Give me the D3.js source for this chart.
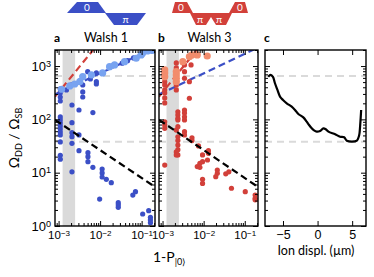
<!DOCTYPE html>
<html><head><meta charset="utf-8">
<script src="https://cdn.jsdelivr.net/npm/d3@7"></script>
<style>body{margin:0;background:#fff} svg{display:block;font-family:Lato,"Open Sans",sans-serif}</style>
</head><body><svg id="c" width="374" height="277"></svg>
<script>
// ---------- data ----------
const xDomain = [8.2e-4, 0.21];
const yDomain = [1, 2000];
const cDomain = [-7.6, 7.0];
const bandRange = [1.25e-3, 2.5e-3];
const refLevels = [650, 38];
const yTickVals = [1, 10, 100, 1000];
const xTickVals = [1e-3, 1e-2, 1e-1];
const cTickVals = [-5, 0, 5];
const panelTitles = ["Walsh 1", "Walsh 3", ""];
const panelLetters = ["a", "b", "c"];

const walsh1Dark = [
 [1.1e-3,372],[1.1e-3,313],[1.1e-3,263],[1.1e-3,221],[1.1e-3,111],[1.1e-3,97.5],[1.1e-3,85.5],[1.1e-3,75],[1.1e-3,66],[1.1e-3,58],[1.1e-3,51],[1.1e-3,37.7],[1.1e-3,21.2],[1.1e-3,17.9],
 [2.1e-3,186],[2.1e-3,86.7],[2.1e-3,56.3],[2.1e-3,47.4],[2.1e-3,35.6],[2.1e-3,10.4],
 [3.1e-3,150],[3.1e-3,51],[3.1e-3,25.9],
 [5.1e-3,23.7],[5.1e-3,20],[5.1e-3,16.1],
 [6.7e-3,134],[6.7e-3,12.6],
 [0.0112,11.7],[0.0112,9.9],[0.0112,8.3],
 [0.0141,7.5],[0.0186,6.5],[9.75e-3,3.2],
 [0.0274,2.74],[0.0274,2.48],[0.0274,2.24],
 [0.0614,3.8],[0.0711,4.4],[0.106,1.68],[0.148,1.94],[0.163,1.46],[0.163,1.30],[0.163,1.15],
 [1.55e-3,356],[2.04e-3,442],[3.24e-3,525],[3.82e-3,442],[3.82e-3,327],[3.82e-3,263],[5.02e-3,785],[5.83e-3,573],[8.13e-3,742],[8.13e-3,510],[8.13e-3,461],
 [0.02,1004],[0.034,1130],[0.0458,1262],[0.0637,1419]
];
const walsh1Light = [
 [1.18e-3,367],[1.86e-3,423],[2.45e-3,461],[3.24e-3,510],[3.82e-3,632],[6.17e-3,681],[0.0115,742],[0.0169,975],[0.0223,1050],[0.0388,1210],[0.074,1400],[0.0975,1616],[0.105,1740],[0.138,1920],[0.182,1960]
];
const walsh3Red = [
 [1.13e-3,510],[1.13e-3,442],[1.13e-3,356],[1.13e-3,313],[1.13e-3,252],[1.13e-3,203],[1.13e-3,90],[1.13e-3,78],[1.13e-3,68],[1.13e-3,13.9],
 [2.16e-3,1143],[2.16e-3,921],[2.16e-3,785],[2.16e-3,442],[2.16e-3,356],[2.16e-3,63],[2.16e-3,24.5],[2.16e-3,21.5],
 [2.36e-3,139],[2.36e-3,121],[2.36e-3,105],[2.36e-3,97.5],[2.36e-3,73],[2.36e-3,47],[2.36e-3,40],[2.36e-3,33],[2.36e-3,27],[2.36e-3,21.5],
 [3.42e-3,1050],[3.42e-3,785],[3.42e-3,590],[3.42e-3,150],[3.42e-3,132],[3.42e-3,112],[3.42e-3,97.5],[3.42e-3,58.8],[3.42e-3,51],
 [4.5e-3,510],[4.5e-3,249],[4.94e-3,1050],[5.2e-3,45],[5.2e-3,40],
 [7.5e-3,31.7],[7e-3,13],[8.1e-3,15],[8.1e-3,12.6],[9.4e-3,21.5],[9.4e-3,16.1],[9.4e-3,7.5],[9.4e-3,6.3],[0.0124,17.3],[0.0131,25.9],[0.0131,23.1],
 [0.0215,11.2],[0.0215,9.75],[0.0197,8.4],[0.0345,9.5],[0.041,10.4],[0.0475,5.1],[0.103,4.4],[0.179,3.8],[0.179,3.3],[0.179,3.1]
];
const walsh3Salmon = [
 [1.13e-3,845],[1.13e-3,742],[1.13e-3,632],[2.16e-3,785],[2.16e-3,681],[2.16e-3,590],[2.16e-3,510],[3.11e-3,1210],[4.5e-3,1500],[5.2e-3,1616],[7e-3,1616],[0.0122,1545]
];
const redDash = [[8.2e-4,267],[6.8e-3,2000]];
const blueDash = [[8.2e-4,293],[0.21,2220]];
const blackDash = [[8.2e-4,98],[0.21,5.4]];
const ionDispl = [-7.13,-6.78,-6.45,-6.16,-5.80,-5.43,-5.0,-4.46,-3.74,-3.26,-2.78,-2.06,-1.57,-1.23,-0.84,-0.51,-0.12,0.36,0.84,1.23,1.57,2.54,3.26,3.84,4.23,4.96,5.68,5.94,6.06,6.19,6.30];
const ionRatio = [632,681,625,476,356,267,231,200,173,150,126,109,90.6,78.5,68,62,58.8,60.6,68,64.6,58.8,52.5,47.3,46.2,39.8,38.2,39.8,46.7,54.8,89,150];

// ---------- colours ----------
const C = {dark:"#3b4fc6", light:"#78a3f0", red:"#d2403a", salmon:"#f28c6c", grey:"#dadada"};

// ---------- layout ----------
const svg = d3.select("#c");
const yTop = 50, yBot = 226;
const panels = [{l:55,r:155},{l:159,r:258},{l:265,r:366}];
const y = d3.scaleLog().domain(yDomain).range([yBot, yTop]);
const minorY = [];
for (let d=1; d<=1000; d*=10) for (let k=2;k<=9;k++) if (d*k<=yDomain[1]) minorY.push(d*k);
const minorX = [];
for (let d=1e-4; d<=0.1; d*=10) for (let k=2;k<=9;k++){const v=d*k; if(v>=xDomain[0]&&v<=xDomain[1]) minorX.push(v);}

function supLabel(sel, exp){
  sel.text(null);
  sel.append("tspan").text("10");
  sel.append("tspan").attr("dy","-0.45em").attr("font-size","0.7em").text(exp);
}

const defs = svg.append("defs");
panels.forEach((p,i)=>{
  defs.append("clipPath").attr("id","clip"+i).append("rect").attr("x",p.l).attr("y",yTop).attr("width",p.r-p.l).attr("height",yBot-yTop);
});

function yAxes(g, p, labels){
  const axL = g.append("g").attr("transform",`translate(${p.l},0)`).call(d3.axisLeft(y).tickValues(yTickVals).tickSizeInner(-5).tickSizeOuter(0).tickPadding(4).tickFormat(d=>labels?String(Math.round(Math.log10(d))):""));
  g.append("g").attr("transform",`translate(${p.l},0)`).call(d3.axisLeft(y).tickValues(minorY).tickSizeInner(-3).tickSizeOuter(0).tickFormat(""));
  g.append("g").attr("transform",`translate(${p.r},0)`).call(d3.axisRight(y).tickValues(yTickVals).tickSizeInner(-5).tickSizeOuter(0).tickFormat(""));
  g.append("g").attr("transform",`translate(${p.r},0)`).call(d3.axisRight(y).tickValues(minorY).tickSizeInner(-3).tickSizeOuter(0).tickFormat(""));
  if (labels){
    axL.selectAll("text").attr("font-size",13).attr("fill","#000").each(function(d){supLabel(d3.select(this), String(Math.round(Math.log10(d))));});
  }
}

panels.forEach((p,i)=>{
  const g = svg.append("g");
  const isC = i===2;
  const x = isC ? d3.scaleLinear().domain(cDomain).range([p.l,p.r]) : d3.scaleLog().domain(xDomain).range([p.l,p.r]);
  const plot = g.append("g").attr("clip-path",`url(#clip${i})`);
  if (!isC){
    plot.append("rect").attr("x",x(bandRange[0])).attr("y",yTop).attr("width",x(bandRange[1])-x(bandRange[0])).attr("height",yBot-yTop).attr("fill",C.grey);
  }
  refLevels.forEach(v=>{
    plot.append("line").attr("x1",p.l).attr("x2",p.r).attr("y1",y(v)).attr("y2",y(v)).attr("stroke",C.grey).attr("stroke-width",2).attr("stroke-dasharray","7,5");
  });
  const line = d3.line().x(d=>x(d[0])).y(d=>y(d[1]));
  if (!isC){
    const dark = i===0 ? walsh1Dark : walsh3Red;
    const light = i===0 ? walsh1Light : walsh3Salmon;
    const cd = i===0 ? C.dark : C.red, cl = i===0 ? C.light : C.salmon;
    plot.append("path").datum(redDash).attr("d",line).attr("fill","none").attr("stroke",C.red).attr("stroke-width",2.2).attr("stroke-dasharray","7,4");
    plot.append("path").datum(blueDash).attr("d",line).attr("fill","none").attr("stroke",C.dark).attr("stroke-width",2.2).attr("stroke-dasharray","7,4");
    plot.selectAll("circle.d").data(dark).join("circle").attr("cx",d=>x(d[0])).attr("cy",d=>y(d[1])).attr("r",2.6).attr("fill",cd);
    plot.selectAll("circle.l").data(light).join("circle").attr("cx",d=>x(d[0])).attr("cy",d=>y(d[1])).attr("r",3.6).attr("fill",cl);
    plot.append("path").datum(blackDash).attr("d",line).attr("fill","none").attr("stroke","#000").attr("stroke-width",2.2).attr("stroke-dasharray","7,4");
  } else {
    const pts = ionDispl.map((v,k)=>[v, ionRatio[k]]);
    plot.append("path").datum(pts).attr("d",line.curve(d3.curveCatmullRom)).attr("fill","none").attr("stroke","#000").attr("stroke-width",2.2);
  }
  // axes
  const ax = g.append("g").attr("font-family","Lato");
  if (!isC){
    const b = ax.append("g").attr("transform",`translate(0,${yBot})`).call(d3.axisBottom(x).tickValues(xTickVals).tickSizeInner(-5).tickSizeOuter(0).tickPadding(5).tickFormat(d=>String(Math.round(Math.log10(d)))));
    b.selectAll("text").attr("font-size",11.5).attr("fill","#000").each(function(d){supLabel(d3.select(this), "\u2212"+String(-Math.round(Math.log10(d))));});
    ax.append("g").attr("transform",`translate(0,${yBot})`).call(d3.axisBottom(x).tickValues(minorX).tickSizeInner(-3).tickSizeOuter(0).tickFormat(""));
    ax.append("g").attr("transform",`translate(0,${yTop})`).call(d3.axisTop(x).tickValues(xTickVals).tickSizeInner(-5).tickSizeOuter(0).tickFormat(""));
    ax.append("g").attr("transform",`translate(0,${yTop})`).call(d3.axisTop(x).tickValues(minorX).tickSizeInner(-3).tickSizeOuter(0).tickFormat(""));
  } else {
    const b = ax.append("g").attr("transform",`translate(0,${yBot})`).call(d3.axisBottom(x).tickValues(cTickVals).tickSizeInner(-5).tickSizeOuter(0).tickPadding(4).tickFormat(d=>d<0?"\u2212"+(-d):String(d)));
    b.selectAll("text").attr("font-size",12.5).attr("fill","#000");
    ax.append("g").attr("transform",`translate(0,${yTop})`).call(d3.axisTop(x).tickValues(cTickVals).tickSizeInner(-5).tickSizeOuter(0).tickFormat(""));
  }
  yAxes(ax, p, i===0);
  ax.selectAll(".domain").remove();
  ax.selectAll(".tick line").attr("stroke","#000").attr("stroke-width",1);
  g.append("rect").attr("x",p.l).attr("y",yTop).attr("width",p.r-p.l).attr("height",yBot-yTop).attr("fill","none").attr("stroke","#000").attr("stroke-width",1.4);
  g.append("text").attr("x",p.l-1).attr("y",42).attr("font-size",12).attr("font-weight","bold").text(panelLetters[i]);
  if (panelTitles[i]) g.append("text").attr("x",(p.l+p.r)/2+1).attr("y",42).attr("text-anchor","middle").attr("font-size",12.5).text(panelTitles[i]);
});

// axis titles
const yl = svg.append("text").attr("transform","translate(19,138) rotate(-90)").attr("text-anchor","middle").attr("font-size",14);
yl.append("tspan").text("\u03A9");
yl.append("tspan").attr("font-size",9).attr("dy",3).text("DD");
yl.append("tspan").attr("dy",-3).text(" / \u03A9");
yl.append("tspan").attr("font-size",9).attr("dy",3).text("SB");
const xl = svg.append("text").attr("x",153).attr("y",262).attr("font-size",14);
xl.append("tspan").text("1-P");
xl.append("tspan").attr("font-size",9).attr("dy",3).text("|0\u27E9");
svg.append("text").attr("x",316).attr("y",255).attr("text-anchor","middle").attr("font-size",12.5).text("Ion displ. (\u00B5m)");

// pulse icons
const iconBlueUpper = [[67,13],[77,2],[98,2],[106,13]];
const iconBlueLower = [[105,13],[146,13],[137,25],[114,25]];
svg.append("polygon").attr("points",iconBlueUpper.join(" ")).attr("fill",C.dark);
svg.append("polygon").attr("points",iconBlueLower.join(" ")).attr("fill",C.dark);
svg.append("text").attr("x",87).attr("y",11).attr("text-anchor","middle").attr("font-size",10).attr("fill","#fff").text("0");
svg.append("text").attr("x",125.5).attr("y",23).attr("text-anchor","middle").attr("font-size",10).attr("fill","#fff").text("\u03C0");
const iconRedParts = [
  [[172,13],[175,2],[187,2],[193,13]],
  [[190,13],[232,13],[226,25],[216,25],[211,17],[206,25],[196,25]],
  [[229,13],[235,2],[245,2],[248,13]]
];
iconRedParts.forEach(pp=>svg.append("polygon").attr("points",pp.join(" ")).attr("fill",C.red));
[[181,11,"0"],[240,11,"0"],[200,23,"\u03C0"],[219,23,"\u03C0"]].forEach(t=>svg.append("text").attr("x",t[0]).attr("y",t[1]).attr("text-anchor","middle").attr("font-size",10).attr("fill","#fff").text(t[2]));
</script></body></html>
